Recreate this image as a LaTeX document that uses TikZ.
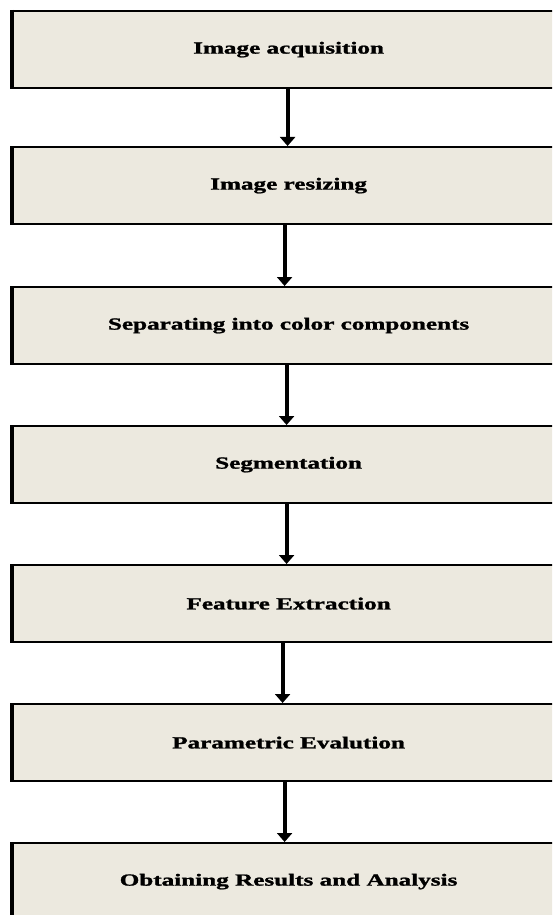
\documentclass[tikz,border=0pt]{standalone}
\usepackage{fontspec}
\setmainfont{Liberation Serif}
\newfontfamily\heavyfont{Liberation Serif Bold}[FakeBold=1.2]
\usetikzlibrary{arrows.meta}
\definecolor{boxfill}{RGB}{236,233,223}
\tikzset{
  stage/.style={draw=black, fill=boxfill, line width=2.2pt, minimum width=553pt,
    minimum height=77pt, inner sep=0pt, anchor=north west,
    font=\fontsize{17pt}{19pt}\heavyfont},
  flow/.style={line width=4pt, -{Triangle[width=15pt,length=9pt]}}
}
\newcommand{\wide}[1]{\scalebox{1.48}[1]{#1}}
\begin{document}
\begin{tikzpicture}[x=1pt,y=-1pt]
\useasboundingbox (0,0) rectangle (552,915);
\fill[white] (0,0) rectangle (552,915);
\clip (0,0) rectangle (552,915);
\node[stage] (s1) at (11,10)  {\wide{Image acquisition}};
\node[stage] (s2) at (11,146) {\wide{Image resizing}};
\node[stage] (s3) at (11,286) {\wide{Separating into color components}};
\node[stage] (s4) at (11,425) {\wide{Segmentation}};
\node[stage] (s5) at (11,564) {\wide{Feature Extraction}};
\node[stage] (s6) at (11,703) {\wide{Parametric Evalution}};
\node[stage] (s7) at (11,842) {\wide{Obtaining Results and Analysis}};
\foreach \n in {s1,s2,s3,s4,s5,s6,s7}{
  \draw[line width=4pt] ([xshift=1pt]\n.north west) -- ([xshift=1pt]\n.south west);
}
\draw[flow] ([xshift=-1pt]s1.south) -- ([xshift=-1pt]s2.north);
\draw[flow] ([xshift=-4pt]s2.south) -- ([xshift=-4pt]s3.north);
\draw[flow] ([xshift=-2pt]s3.south) -- ([xshift=-2pt]s4.north);
\draw[flow] ([xshift=-2pt]s4.south) -- ([xshift=-2pt]s5.north);
\draw[flow] ([xshift=-6pt]s5.south) -- ([xshift=-6pt]s6.north);
\draw[flow] ([xshift=-4pt]s6.south) -- ([xshift=-4pt]s7.north);
\end{tikzpicture}
\end{document}
